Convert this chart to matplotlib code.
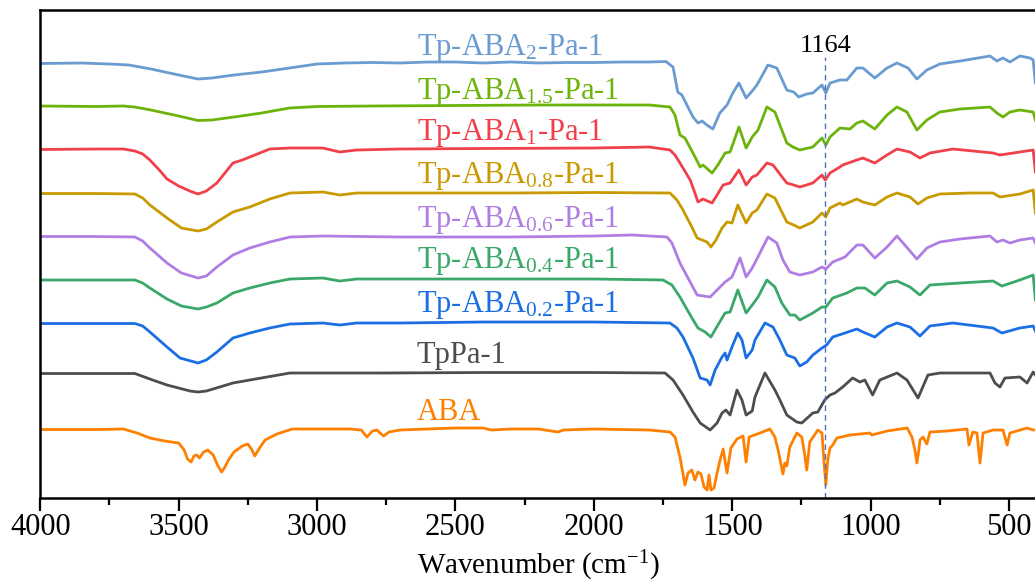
import matplotlib
matplotlib.use("Agg")
import matplotlib.pyplot as plt
from matplotlib.ticker import MultipleLocator

plt.rcParams['font.family'] = ['Liberation Serif', 'DejaVu Serif']
plt.rcParams['mathtext.fontset'] = 'custom'
plt.rcParams['mathtext.rm'] = 'Liberation Serif'
plt.rcParams['mathtext.it'] = 'Liberation Serif:italic'
plt.rcParams['mathtext.bf'] = 'Liberation Serif:bold'
plt.rcParams['mathtext.default'] = 'regular'

# ---------------- data (wavenumber cm-1, stacked transmittance, a.u.) ----------------
aba2_wn = [4000, 3850, 3750, 3680, 3640, 3600, 3550, 3500, 3430, 3380, 3300, 3200, 3100, 3000,
           2900, 2800, 2700, 2600, 2500, 2400, 2300, 2200, 2100, 2000, 1900, 1800, 1740, 1714,
           1697, 1682, 1642, 1624, 1609, 1592, 1570, 1545, 1519, 1498, 1476, 1450, 1425, 1411,
           1371, 1339, 1303, 1278, 1260, 1231, 1209, 1176, 1162, 1147, 1111, 1086, 1050, 1028,
           985, 941, 905, 865, 833, 797, 750, 677, 569, 544, 522, 497, 461, 424, 413, 405]
aba2_t = [441.5, 442, 441, 440, 438, 436, 433, 430, 426, 427, 430, 433, 437, 441,
          442, 442.5, 442, 443, 443, 442, 443, 442, 442.5, 442.5, 443, 443, 443.5, 438,
          413, 410, 388, 382, 384, 380, 376, 392, 400, 412, 422, 407, 415, 420,
          440, 437, 415, 413, 408, 411, 412, 420, 412, 422, 425, 425, 437, 437,
          427, 437, 442, 437, 426, 435, 441, 444, 449, 444, 447, 443, 449, 447, 445, 422]

aba15_wn = [4000, 3800, 3700, 3660, 3640, 3600, 3550, 3500, 3430, 3380, 3300, 3200, 3100, 3000,
            2800, 2500, 2200, 2000, 1800, 1725, 1707, 1689, 1671, 1642, 1616, 1606, 1573, 1552,
            1526, 1508, 1476, 1450, 1428, 1407, 1375, 1346, 1303, 1281, 1256, 1209, 1176, 1162,
            1147, 1111, 1075, 1050, 1028, 985, 941, 905, 869, 833, 797, 750, 677, 569, 544,
            522, 497, 461, 413, 405]
aba15_t = [399, 398.5, 399, 398, 397, 395, 392, 389, 384.5, 385, 388, 392, 397, 398.5,
           399, 399.5, 400, 400, 400, 398, 390, 370, 367, 352, 338, 340, 332, 340,
           352, 353, 378, 357, 368, 375, 398, 393, 362, 358, 355, 358, 367, 360,
           368, 377, 376, 382, 384, 376, 390, 398, 393, 375, 385, 393, 396, 398, 392,
           388, 393, 395, 393, 385]

aba1_wn = [4000, 3800, 3700, 3658, 3630, 3604, 3570, 3542, 3500, 3460, 3430, 3400, 3362, 3330,
           3304, 3270, 3243, 3171, 3098, 2979, 2918, 2857, 2700, 2400, 2000, 1800, 1725, 1707,
           1689, 1652, 1635, 1624, 1606, 1573, 1555, 1533, 1508, 1476, 1450, 1428, 1411, 1375,
           1353, 1303, 1278, 1256, 1209, 1176, 1164, 1147, 1111, 1101, 1050, 1028, 985, 941,
           905, 858, 822, 786, 703, 558, 533, 461, 413, 405]
aba1_t = [355.5, 356, 356, 354, 351, 345, 335, 326, 319, 314, 311, 314, 322, 333,
          342, 345, 348, 356, 357, 357, 353, 355, 356, 356.5, 357, 358, 355, 350,
          342, 325, 312, 303, 306, 302, 310, 320, 322, 335, 320, 328, 330, 342,
          340, 322, 320, 318, 322, 330, 325, 332, 338, 340, 345, 347, 342, 350,
          356, 353, 347, 352, 356, 352, 350, 353, 355, 333]

aba08_wn = [4000, 3800, 3658, 3630, 3604, 3542, 3490, 3430, 3400, 3362, 3304, 3243, 3171, 3098,
            2979, 2918, 2857, 2700, 2300, 2000, 1725, 1700, 1678, 1646, 1627, 1609, 1591, 1577,
            1559, 1537, 1519, 1501, 1480, 1450, 1428, 1411, 1375, 1346, 1303, 1278, 1256, 1209,
            1176, 1162, 1147, 1111, 1101, 1050, 1028, 985, 941, 905, 858, 829, 797, 750, 641,
            558, 533, 461, 413, 405]
aba08_t = [311.5, 311.5, 311, 307, 300, 287, 277, 274, 276, 283, 293, 298, 306, 312,
           313, 310, 312, 312, 312, 312.5, 312, 305, 295, 278, 267, 265, 263, 258,
           265, 277, 283, 282, 300, 282, 292, 295, 311, 307, 283, 280, 277, 283,
           292, 288, 297, 302, 300, 306, 303, 300, 308, 312, 308, 301, 307, 311, 312,
           312, 308, 311, 315, 292]

aba06_wn = [4000, 3800, 3658, 3630, 3604, 3542, 3490, 3430, 3400, 3362, 3304, 3243, 3171, 3098,
            2979, 2700, 2300, 2000, 1860, 1736, 1718, 1689, 1660, 1627, 1580, 1555, 1526, 1501,
            1472, 1450, 1428, 1400, 1371, 1339, 1317, 1292, 1256, 1209, 1176, 1162, 1137, 1093,
            1050, 1028, 985, 941, 905, 833, 797, 750, 677, 569, 544, 522, 497, 461, 413, 405]
aba06_t = [268.5, 268.5, 268, 264, 257, 242, 232, 227, 229, 238, 250, 257, 263, 268,
           269, 268, 268, 269, 270, 268, 262, 242, 227, 210, 208, 215, 223, 228,
           247, 228, 237, 252, 268, 262, 245, 233, 230, 233, 238, 236, 243, 248,
           260, 260, 247, 258, 269, 246, 257, 263, 266, 269, 263, 265, 262, 265, 267, 262]

aba04_wn = [4000, 3800, 3658, 3630, 3604, 3542, 3490, 3430, 3400, 3362, 3304, 3243, 3171, 3098,
            2979, 2918, 2857, 2700, 2300, 2000, 1750, 1718, 1689, 1652, 1624, 1598, 1577, 1552,
            1526, 1508, 1480, 1450, 1428, 1407, 1375, 1346, 1321, 1292, 1274, 1256, 1209, 1176,
            1162, 1137, 1086, 1050, 1021, 985, 941, 905, 858, 822, 786, 677, 558, 526, 461,
            413, 405]
aba04_t = [225, 225, 225, 222, 217, 206, 199, 196, 198, 202, 212, 217, 222, 226,
           227, 224, 226, 226, 226, 226, 225, 220, 208, 190, 177, 173, 168, 180,
           192, 193, 215, 192, 200, 208, 225, 218, 202, 190, 190, 185, 192, 198,
           198, 207, 212, 217, 217, 210, 222, 224, 218, 210, 220, 222, 224, 219, 225,
           230, 205]

aba02_wn = [4000, 3800, 3658, 3630, 3604, 3542, 3495, 3430, 3400, 3362, 3304, 3243, 3171, 3098,
            2979, 2918, 2857, 2700, 2400, 2000, 1725, 1700, 1678, 1642, 1616, 1591, 1580, 1562,
            1537, 1526, 1519, 1501, 1480, 1465, 1450, 1428, 1418, 1382, 1353, 1328, 1303, 1274,
            1256, 1231, 1209, 1176, 1159, 1137, 1093, 1050, 1028, 985, 941, 905, 858, 822, 786,
            703, 558, 526, 461, 413, 405]
aba02_t = [181.5, 181.5, 181.5, 179, 173, 158, 147, 142, 145, 153, 167, 172, 177, 181,
           182, 180, 182, 182, 183, 183, 182, 177, 168, 147, 127, 125, 120, 135,
           148, 152, 145, 158, 172, 165, 147, 155, 165, 182, 178, 165, 150, 147,
           139, 143, 150, 157, 160, 168, 172, 176, 173, 168, 178, 182, 178, 169, 179,
           182, 177, 172, 177, 179, 174]

tppa_wn = [4000, 3800, 3658, 3604, 3542, 3459, 3430, 3400, 3304, 3243, 3098, 2979, 2760, 2400,
           2000, 1743, 1714, 1678, 1642, 1616, 1580, 1555, 1537, 1523, 1508, 1483, 1465, 1450,
           1428, 1418, 1382, 1346, 1328, 1303, 1267, 1249, 1209, 1191, 1166, 1147, 1129, 1101,
           1065, 1039, 1021, 993, 967, 905, 869, 829, 793, 750, 569, 551, 533, 515, 461, 435,
           413, 405]
tppa_t = [131.5, 131.5, 131.5, 126, 120, 114, 113, 114, 122, 125, 132, 132, 132, 132.5,
          132.5, 132, 125, 110, 93, 82, 75, 82, 92, 95, 90, 115, 105, 90,
          94, 108, 132, 115, 105, 90, 83, 82, 92, 93, 105, 110, 112, 118,
          127, 123, 125, 110, 125, 132, 125, 107, 130, 132, 132, 122, 118, 127, 128, 122,
          133, 130]

aba_wn = [4000, 3800, 3700, 3650, 3604, 3550, 3500, 3480, 3468, 3455, 3445, 3435, 3425, 3410,
          3395, 3375, 3360, 3345, 3335, 3320, 3300, 3270, 3250, 3235, 3225, 3210, 3188, 3145,
          3090, 2881, 2840, 2820, 2800, 2784, 2760, 2740, 2700, 2600, 2500, 2400, 2370, 2300,
          2200, 2130, 2110, 2000, 1800, 1725, 1707, 1689, 1671, 1660, 1646, 1635, 1624, 1613,
          1602, 1591, 1584, 1577, 1566, 1555, 1544, 1533, 1519, 1505, 1483, 1461, 1450, 1439,
          1400, 1364, 1346, 1332, 1317, 1310, 1303, 1292, 1267, 1249, 1238, 1231, 1220, 1191,
          1176, 1169, 1162, 1155, 1147, 1137, 1122, 1075, 1003, 996, 941, 868, 851, 840,
          833, 826, 822, 811, 797, 786, 724, 652, 645, 631, 616, 605, 594, 558, 522, 507,
          497, 435, 413, 405]
aba_t = [75.5, 75.5, 76, 72, 67, 64, 62, 55, 46, 43, 49, 50, 47, 53,
         55, 50, 40, 33, 37, 45, 53, 59, 61, 55, 49, 56, 65, 71,
         76, 76, 75, 68, 74, 75, 69, 73, 75, 76, 77, 77, 75, 76,
         76, 73, 75, 76, 75, 73, 68, 48, 20, 32, 35, 25, 33, 31,
         18, 15, 30, 15, 17, 32, 45, 56, 32, 57, 66, 69, 43, 68,
         72, 76, 68, 52, 31, 42, 39, 58, 72, 68, 50, 35, 63, 75,
         72, 45, 20, 45, 57, 60, 67, 70, 72, 70, 74, 77, 68, 55,
         42, 55, 65, 68, 61, 73, 74, 76, 60, 73, 72, 42, 72, 75, 75, 60,
         72, 77, 75, 75]

series_labels = ['Tp-ABA$_{2}$-Pa-1', 'Tp-ABA$_{1.5}$-Pa-1', 'Tp-ABA$_{1}$-Pa-1',
                 'Tp-ABA$_{0.8}$-Pa-1', 'Tp-ABA$_{0.6}$-Pa-1', 'Tp-ABA$_{0.4}$-Pa-1',
                 'Tp-ABA$_{0.2}$-Pa-1', 'TpPa-1', 'ABA']
series_wn = [aba2_wn, aba15_wn, aba1_wn, aba08_wn, aba06_wn, aba04_wn, aba02_wn, tppa_wn, aba_wn]
series_t = [aba2_t, aba15_t, aba1_t, aba08_t, aba06_t, aba04_t, aba02_t, tppa_t, aba_t]
marker_wn = 1164
marker_label = '1164'

# ---------------- style / layout ----------------
colors = ['#6a9bd1', '#6cb40c', '#f0414a', '#c99a00', '#b07ee2',
          '#3aa868', '#1c6fe3', '#4d4d4d', '#ff8000']
label_x = 2640
label_y = [450, 406, 365, 322, 278, 237, 193, 142, 85]

fig = plt.figure(figsize=(10.35, 5.85), dpi=100)
ax = fig.add_axes([0.0389, 0.1487, 0.9628, 0.8342])

for wn, t, c, lab, ly in zip(series_wn, series_t, colors, series_labels, label_y):
    ax.plot(wn, t, color=c, lw=2.0, solid_joinstyle='round')
    ax.text(label_x, ly, lab, color=c, fontsize=22, ha='left', va='baseline')

ax.axvline(marker_wn, ymin=0, ymax=0.904, color='#4a72c0', lw=1.0, ls=(0, (4, 3)))
ax.text(marker_wn, 453, marker_label, fontsize=19, ha='center', va='baseline')

ax.set_xlim(4000, 400)
ax.set_ylim(7, 495)
ax.xaxis.set_major_locator(MultipleLocator(500))
ax.xaxis.set_minor_locator(MultipleLocator(250))
ax.tick_params(axis='x', which='major', direction='out', length=9, width=1.6,
               labelsize=22, pad=2)
ax.tick_params(axis='x', which='minor', direction='out', length=5, width=1.6)
ax.set_yticks([])
for s in ax.spines.values():
    s.set_linewidth(1.8)
ax.set_xlabel('Wavenumber (cm$^{-1}$)', fontsize=21, labelpad=5)

fig.savefig('out.png', dpi=100)
